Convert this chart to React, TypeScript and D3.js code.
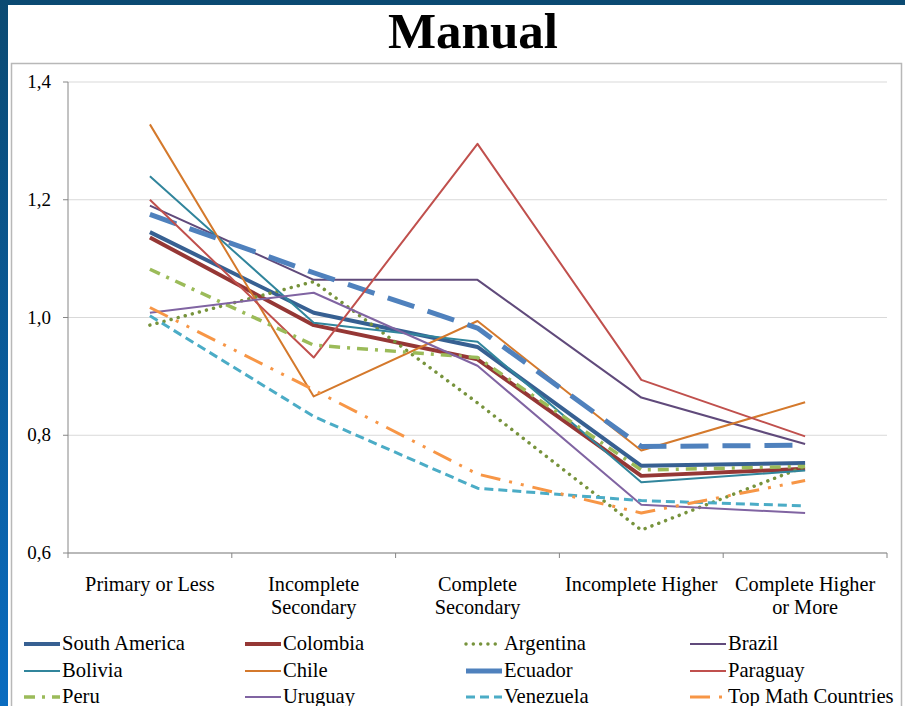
import React from "react";
import * as d3 from "d3";

const categories: string[][] = [
  ["Primary or Less"],
  ["Incomplete", "Secondary"],
  ["Complete", "Secondary"],
  ["Incomplete Higher"],
  ["Complete Higher", "or More"],
];
const yTicks = [0.6, 0.8, 1.0, 1.2, 1.4];

const southAmerica = [1.145, 1.008, 0.95, 0.748, 0.753];
const colombia = [1.136, 0.987, 0.929, 0.731, 0.743];
const argentina = [0.987, 1.061, 0.855, 0.639, 0.747];
const brazil = [1.19, 1.064, 1.064, 0.864, 0.785];
const bolivia = [1.24, 0.991, 0.959, 0.72, 0.74];
const chile = [1.328, 0.866, 0.994, 0.774, 0.856];
const ecuador = [1.175, 1.076, 0.982, 0.781, 0.783];
const paraguay = [1.2, 0.932, 1.295, 0.894, 0.798];
const peru = [1.082, 0.953, 0.932, 0.741, 0.747];
const uruguay = [1.008, 1.042, 0.918, 0.682, 0.668];
const venezuela = [1.003, 0.832, 0.71, 0.689, 0.68];
const topMath = [1.017, 0.877, 0.734, 0.668, 0.723];

const seriesNames = [
  "South America", "Colombia", "Argentina", "Brazil",
  "Bolivia", "Chile", "Ecuador", "Paraguay",
  "Peru", "Uruguay", "Venezuela", "Top Math Countries",
];
const seriesValues = [
  southAmerica, colombia, argentina, brazil,
  bolivia, chile, ecuador, paraguay,
  peru, uruguay, venezuela, topMath,
];

type Style = { color: string; width: number; dash?: string; cap?: "round" | "butt" };
const styles: Style[] = [
  { color: "#376092", width: 4 },
  { color: "#953735", width: 4 },
  { color: "#77933c", width: 3.5, dash: "0.01 7.3", cap: "round" },
  { color: "#604a7b", width: 2 },
  { color: "#31859c", width: 2 },
  { color: "#d4792c", width: 2 },
  { color: "#4f81bd", width: 5, dash: "28 14" },
  { color: "#c0504d", width: 2 },
  { color: "#9bbb59", width: 3.5, dash: "11 7 3 7" },
  { color: "#8064a2", width: 2 },
  { color: "#4bacc6", width: 3, dash: "9 5" },
  { color: "#f79646", width: 3, dash: "20 9 3 9 3 9" },
];

const W = 905;
const H = 706;
const left = 68;
const right = 887;
const top = 82;
const bottom = 553;

export default function App() {
  const x = d3.scaleBand<number>().domain(categories.map((_, i) => i)).range([left, right]);
  const y = d3.scaleLinear().domain([0.6, 1.4]).range([bottom, top]);
  const cx = (i: number) => (x(i) as number) + x.bandwidth() / 2;
  const line = d3.line<number>().x((_, i) => cx(i)).y((d) => y(d));
  const fmt = (v: number) => d3.format(".1f")(v).replace(".", ",");
  const font = "'Liberation Serif', 'Times New Roman', serif";
  const legendCols = [24, 245, 466, 690];
  const legendRows = [644, 671, 697];

  return (
    <svg width={W} height={H} style={{ position: "absolute", left: 0, top: 0 }} fontFamily={font}>
      <defs>
        <linearGradient id="bg" x1="0" y1="0" x2="0" y2="1">
          <stop offset="0" stopColor="#0b4a72" />
          <stop offset="1" stopColor="#0a6cc0" />
        </linearGradient>
      </defs>
      <rect x={0} y={0} width={W} height={H} fill="url(#bg)" />
      <rect x={8} y={5} width={W - 8} height={H - 5} fill="#ffffff" />
      <text x={473} y={48} textAnchor="middle" fontSize={51} fontWeight="bold" fill="#000">
        Manual
      </text>
      <path d={`M11.5,${H} V63.5 H901.5 V${H}`} fill="none" stroke="#b8b8b8" strokeWidth={1.5} />

      {yTicks.map((t) => (
        <line key={"g" + t} x1={left} x2={right} y1={y(t)} y2={y(t)} stroke="#d9d9d9" strokeWidth={1} />
      ))}
      <line x1={left} x2={left} y1={top} y2={bottom} stroke="#868686" strokeWidth={1} />
      <line x1={left} x2={right} y1={bottom} y2={bottom} stroke="#868686" strokeWidth={1} />
      {yTicks.map((t) => (
        <g key={"t" + t}>
          <line x1={left - 5} x2={left} y1={y(t)} y2={y(t)} stroke="#868686" />
          <text x={51} y={y(t) + 6} textAnchor="end" fontSize={19} fill="#000">
            {fmt(t)}
          </text>
        </g>
      ))}
      {categories.map((_, i) => (
        <line key={"xt" + i} x1={(x(i) as number)} x2={(x(i) as number)} y1={bottom} y2={bottom + 5} stroke="#868686" />
      ))}
      <line x1={right} x2={right} y1={bottom} y2={bottom + 5} stroke="#868686" />
      {categories.map((lines, i) => (
        <text key={"c" + i} textAnchor="middle" fontSize={20.3} fill="#000">
          {lines.map((l, j) => (
            <tspan key={j} x={cx(i)} y={591 + j * 23}>
              {l}
            </tspan>
          ))}
        </text>
      ))}

      {seriesValues.map((vals, k) => {
        const s = styles[k];
        return (
          <path
            key={"s" + k}
            d={line(vals) as string}
            fill="none"
            stroke={s.color}
            strokeWidth={s.width}
            strokeDasharray={s.dash}
            strokeLinecap={s.cap || "butt"}
            strokeLinejoin="round"
          />
        );
      })}

      {seriesNames.map((name, k) => {
        const s = styles[k];
        const lx = legendCols[k % 4];
        const ly = legendRows[Math.floor(k / 4)];
        return (
          <g key={"l" + k}>
            <line
              x1={lx}
              x2={lx + 36}
              y1={ly}
              y2={ly}
              stroke={s.color}
              strokeWidth={s.width}
              strokeDasharray={k === 6 ? undefined : s.dash}
              strokeLinecap={s.cap || "butt"}
            />
            <text x={lx + 38} y={ly + 6} fontSize={20.6} fill="#000">
              {name}
            </text>
          </g>
        );
      })}
    </svg>
  );
}
